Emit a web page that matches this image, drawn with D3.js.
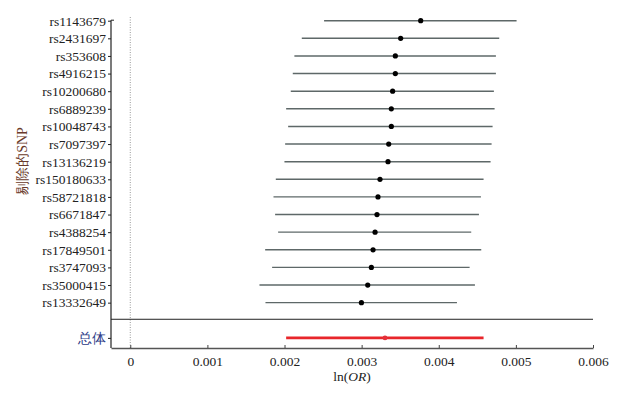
<!DOCTYPE html>
<html>
<head>
<meta charset="utf-8">
<script src="https://cdn.jsdelivr.net/npm/d3@7"></script>
<style>
  body { margin: 0; background: #fff; }
  text { font-family: "Liberation Serif", "Times New Roman", serif; }
</style>
</head>
<body>
<svg id="drawing_region"></svg>
<script>
const snps = ["rs1143679", "rs2431697", "rs353608", "rs4916215", "rs10200680", "rs6889239",
    "rs10048743", "rs7097397", "rs13136219", "rs150180633", "rs58721818", "rs6671847",
    "rs4388254", "rs17849501", "rs3747093", "rs35000415", "rs13332649"];
const estimate = [0.003766, 0.003506, 0.003437, 0.003437, 0.003402, 0.003385, 0.003385, 0.003351,
    0.003342, 0.003238, 0.003212, 0.003199, 0.003174, 0.003148, 0.003126, 0.003079, 0.002997];
const lower = [0.002513, 0.002224, 0.002128, 0.002107, 0.002081, 0.002021, 0.002047, 0.002008,
    0.001999, 0.001887, 0.001857, 0.001878, 0.001917, 0.001749, 0.001839, 0.001675, 0.001753];
const upper = [0.005009, 0.004784, 0.004741, 0.004741, 0.004715, 0.004724, 0.004698, 0.004685,
    0.004672, 0.004581, 0.004547, 0.004521, 0.004421, 0.004551, 0.004400, 0.004469, 0.004236];
const overallLabel = "总体";
const overall = {est: 0.003303, lo: 0.002021, hi: 0.004581};
const xTicks = [0, 0.001, 0.002, 0.003, 0.004, 0.005, 0.006];

const config = {width: 626, height: 394, left: 111, right: 593, top: 20.7, bottom: 348};

const svg = d3.select('#drawing_region')
    .attr('width', config.width)
    .attr('height', config.height);

const rows = snps.map((s, i) => ({name: s, est: estimate[i], lo: lower[i], hi: upper[i]}));

const xscale = d3.scaleLinear()
    .domain([-0.00025, 0.006])
    .range([config.left, config.right]);

// one empty slot between the SNP rows and the overall row
const yscale = d3.scalePoint()
    .domain([...snps, "__gap", overallLabel])
    .range([config.top, 337.9]);

// dotted zero line
svg.append('line')
    .attr('x1', xscale(0)).attr('x2', xscale(0))
    .attr('y1', 17).attr('y2', config.bottom)
    .attr('stroke', '#999')
    .attr('stroke-width', 1)
    .attr('stroke-dasharray', '1,1.5');

// divider
svg.append('line')
    .attr('x1', config.left).attr('x2', config.right)
    .attr('y1', yscale("__gap") - 1).attr('y2', yscale("__gap") - 1)
    .attr('stroke', '#222')
    .attr('stroke-width', 1);

// x axis
const xaxis = d3.axisBottom(xscale)
    .tickValues(xTicks)
    .tickSize(-3)
    .tickSizeOuter(0)
    .tickPadding(8)
    .tickFormat(d => d === 0 ? "0" : d3.format(".3f")(d));

const xg = svg.append('g')
    .attr('transform', `translate(0, ${config.bottom})`)
    .call(xaxis);
xg.select('.domain').attr('stroke', '#555').attr('stroke-width', 1.5);
xg.selectAll('.tick line').attr('stroke', '#444');
xg.selectAll('.tick text')
    .attr('font-size', 13.5)
    .attr('fill', '#222')
    .attr('font-family', '"Liberation Serif", serif');

// y axis
const yaxis = d3.axisLeft(yscale)
    .tickValues([...snps, overallLabel])
    .tickSize(3)
    .tickSizeOuter(0)
    .tickPadding(2);

const yg = svg.append('g')
    .attr('transform', `translate(${config.left}, 0)`)
    .call(yaxis);
yg.select('.domain').remove();
yg.append('line')
    .attr('x1', 0).attr('x2', 0)
    .attr('y1', config.top - 0.5).attr('y2', config.bottom)
    .attr('stroke', '#222')
    .attr('stroke-width', 1.2);
yg.append('line')
    .attr('x1', 0).attr('x2', 3)
    .attr('y1', config.top - 0.5).attr('y2', config.top - 0.5)
    .attr('stroke', '#222');
yg.selectAll('.tick line').attr('stroke', '#222');
yg.selectAll('.tick text')
    .attr('font-size', 13.5)
    .attr('fill', '#222')
    .attr('font-family', '"Liberation Serif", serif');
yg.selectAll('.tick text')
    .filter(d => d === overallLabel)
    .attr('fill', '#2b3a86')
    .attr('font-size', 14)
    .attr('font-family', '"Noto Sans CJK SC", sans-serif');

// SNP intervals
svg.append('g').selectAll('line')
    .data(rows)
    .enter()
    .append('line')
    .attr('x1', d => xscale(d.lo))
    .attr('x2', d => xscale(d.hi))
    .attr('y1', d => yscale(d.name))
    .attr('y2', d => yscale(d.name))
    .attr('stroke', '#5e6868')
    .attr('stroke-width', 1.4);

svg.append('g').selectAll('circle')
    .data(rows)
    .enter()
    .append('circle')
    .attr('cx', d => xscale(d.est))
    .attr('cy', d => yscale(d.name))
    .attr('r', 2.6)
    .attr('fill', '#000');

// overall
svg.append('line')
    .attr('x1', xscale(overall.lo))
    .attr('x2', xscale(overall.hi))
    .attr('y1', yscale(overallLabel))
    .attr('y2', yscale(overallLabel))
    .attr('stroke', '#e8262b')
    .attr('stroke-width', 2.6);
svg.append('circle')
    .attr('cx', xscale(overall.est))
    .attr('cy', yscale(overallLabel))
    .attr('r', 2.4)
    .attr('fill', '#e4303a');

// axis titles
const xlab = svg.append('text')
    .attr('x', (config.left + config.right) / 2)
    .attr('y', 381)
    .attr('text-anchor', 'middle')
    .attr('font-size', 13.5)
    .attr('fill', '#222');
xlab.append('tspan').text('ln(');
xlab.append('tspan').attr('font-style', 'italic').text('OR');
xlab.append('tspan').text(')');

svg.append('text')
    .attr('transform', 'translate(27, 161) rotate(-90)')
    .attr('text-anchor', 'middle')
    .attr('font-size', 14)
    .attr('fill', '#6a3a2a')
    .text('剔除的SNP');
</script>
</body>
</html>
